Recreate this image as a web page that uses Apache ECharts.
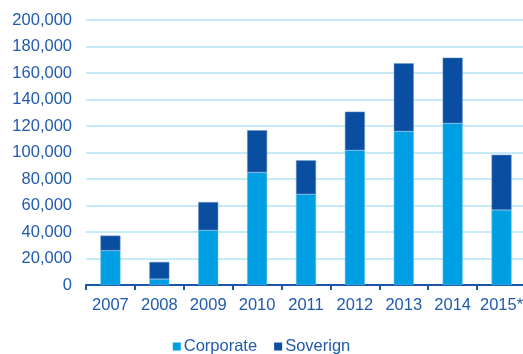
<!DOCTYPE html>
<html>
<head>
<meta charset="utf-8">
<script src="https://cdn.jsdelivr.net/npm/echarts@6/dist/echarts.min.js"></script>
<style>
  html, body { margin: 0; padding: 0; background: #ffffff; }
  #chart { width: 523px; height: 354px; }
</style>
</head>
<body>
<div id="chart"></div>
<script>
// Issuance by year, split into corporate and sovereign
const years = ['2007', '2008', '2009', '2010', '2011', '2012', '2013', '2014', '2015*'];
const corporate = [26000, 4500, 41300, 85000, 68500, 101700, 116000, 122000, 56600];
const sovereign = [11300, 12900, 21300, 31800, 25600, 29100, 51300, 49600, 41700];
const yTicks = [0, 20000, 40000, 60000, 80000, 100000, 120000, 140000, 160000, 180000, 200000];

const textColor = '#1f5aae';
const font = '"Liberation Sans", Arial, sans-serif';

const chart = echarts.init(document.getElementById('chart'), null, { renderer: 'canvas' });
chart.setOption({
  animation: false,
  backgroundColor: '#ffffff',
  grid: { left: 86, right: -3, top: 20, bottom: 69, containLabel: false, outerBoundsMode: 'none' },
  legend: {
    top: 333,
    left: 'center',
    itemWidth: 8,
    itemHeight: 8,
    itemGap: 17,
    icon: 'rect',
    itemStyle: { borderWidth: 0 },
    textStyle: { color: textColor, fontSize: 16.5, fontFamily: font, padding: [0, 0, 0, -2] },
    data: ['Corporate', 'Soverign']
  },
  xAxis: {
    type: 'category',
    data: years,
    axisLine: { lineStyle: { color: '#1b55a8', width: 2 } },
    axisTick: { show: true, length: 5, lineStyle: { color: '#1b55a8', width: 2 } },
    axisLabel: { interval: 0, color: textColor, fontSize: 16.5, fontFamily: font, margin: 12 }
  },
  yAxis: {
    type: 'value',
    min: yTicks[0],
    max: yTicks[yTicks.length - 1],
    interval: yTicks[1] - yTicks[0],
    axisLine: { show: false },
    axisTick: { show: false },
    splitLine: { lineStyle: { color: '#c6eaf8', width: 2 } },
    axisLabel: {
      color: textColor, fontSize: 16.5, fontFamily: font, margin: 14,
      formatter: v => v.toLocaleString('en-US')
    }
  },
  series: [
    {
      name: 'Corporate', type: 'bar', stack: 'total', data: corporate, barWidth: 20,
      itemStyle: { color: '#009fe3', borderColor: '#5cc3ee', borderWidth: 0.5 }
    },
    {
      name: 'Soverign', type: 'bar', stack: 'total', data: sovereign, barWidth: 20,
      itemStyle: { color: '#0a4ea2', borderColor: '#6c93c8', borderWidth: 0.5 }
    }
  ]
});
</script>
</body>
</html>
